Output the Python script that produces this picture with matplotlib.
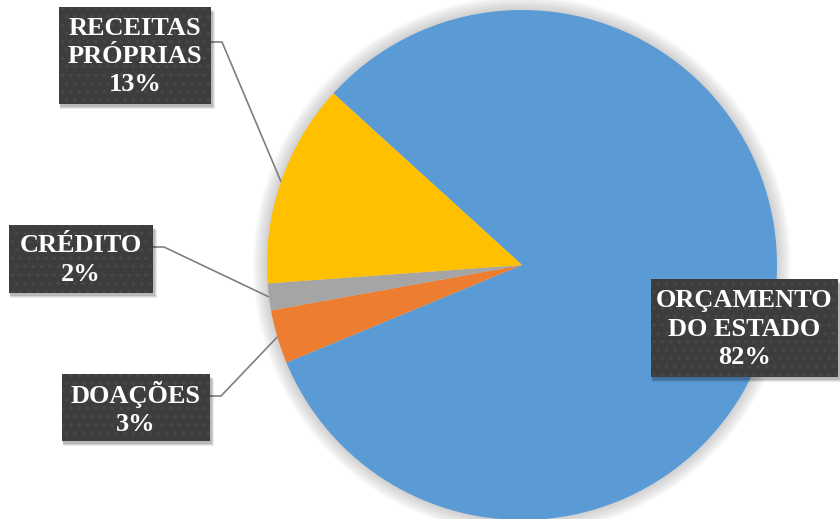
import matplotlib
matplotlib.use("Agg")
import matplotlib.pyplot as plt
from matplotlib.patches import Rectangle, Circle
import numpy as np

categories = ["ORÇAMENTO\nDO ESTADO", "DOAÇÕES", "CRÉDITO", "RECEITAS\nPRÓPRIAS"]
values = [82.0, 3.4, 1.7, 12.9]
pct_labels = ["82%", "3%", "2%", "13%"]
colors = ["#5B9BD5", "#ED7D31", "#A5A5A5", "#FFC000"]

W, H = 840, 519
fig = plt.figure(figsize=(W / 100, H / 100), dpi=100)
ax = fig.add_axes([0, 0, 1, 1])

cx, cy, R = 522, H - 265, 255

# soft glow around the pie
for k in range(14, 0, -1):
    ax.add_patch(Circle((cx, cy), R + k, color="#9a9a9a", alpha=0.035, lw=0, zorder=0))

wedges, _ = ax.pie(values, colors=colors, startangle=137.7, counterclock=False,
                   radius=R, center=(cx, cy), wedgeprops=dict(linewidth=0),
                   frame=True)
for w in wedges:
    w.set_zorder(2)

ax.set_xlim(0, W)
ax.set_ylim(0, H)
ax.set_aspect("equal")
ax.axis("off")

# label boxes: (x0, y0_top, x1, y1_bottom) in pixel coords (y down)
boxes = [
    (651, 279, 838, 377),
    (62, 374, 210, 441),
    (9, 225, 153, 293),
    (59, 7, 211, 104),
]
# leader anchor on box (pixel, y down) and elbow end
leaders = [
    None,
    ((210, 396), (221, 396)),
    ((153, 247), (164, 247)),
    ((211, 42), (222, 42)),
]

font = dict(family=["Liberation Serif", "DejaVu Serif"], fontweight="bold",
            color="white", fontsize=19)

plt.rcParams["hatch.linewidth"] = 1.4
for i, (cat, pct) in enumerate(zip(categories, pct_labels)):
    x0, t, x1, b = boxes[i]
    # shadow
    for d, a in [(5, 0.08), (4, 0.1), (3, 0.12)]:
        ax.add_patch(Rectangle((x0 + 1, H - b - d), x1 - x0 + d - 2, b - t, facecolor="#000000",
                               alpha=a, lw=0, zorder=4))
    ax.add_patch(Rectangle((x0, H - b), x1 - x0, b - t, facecolor="#3d3d3d",
                           lw=0, zorder=5))
    ax.add_patch(Rectangle((x0, H - b), x1 - x0, b - t, facecolor="none",
                           edgecolor="#474747", hatch="..", lw=0, zorder=5.5))
    text = cat + "\n" + pct
    ax.text((x0 + x1) / 2, H - (t + b) / 2 - 1, text, ha="center", va="center",
            linespacing=1.28, zorder=6, **font)

    if leaders[i] is not None:
        w = wedges[i]
        mid = np.deg2rad((w.theta1 + w.theta2) / 2)
        ex, ey = cx + R * np.cos(mid), cy + R * np.sin(mid)
        (ax0, ay0), (ax1, ay1) = leaders[i]
        ax.plot([ax0, ax1, ex], [H - ay0, H - ay1, ey], color="#7f7f7f",
                lw=1.2, zorder=3, solid_capstyle="butt")

fig.savefig("out.png", dpi=100)
